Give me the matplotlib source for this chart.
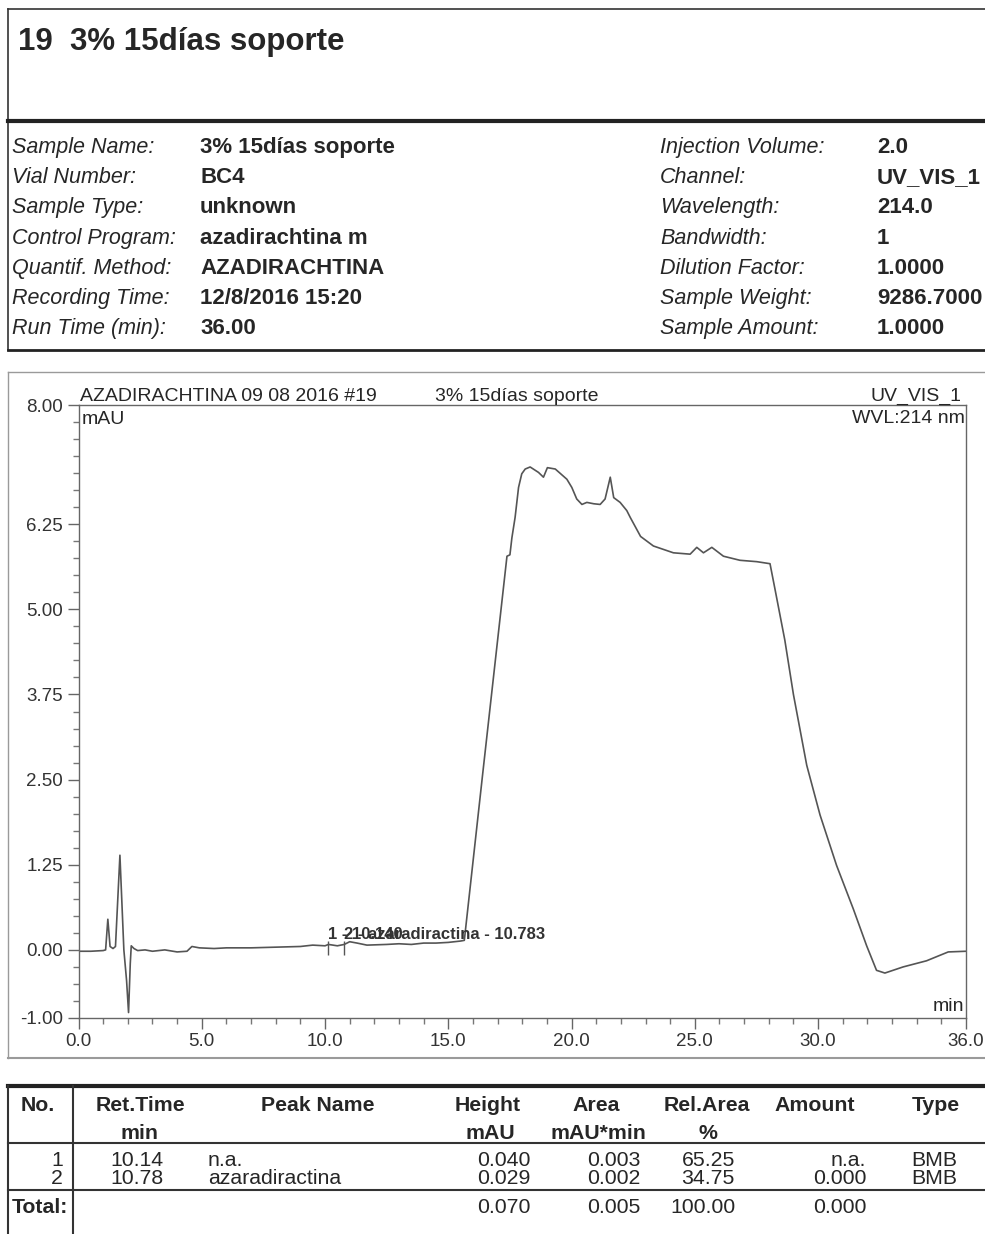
import matplotlib
matplotlib.use("Agg")
import matplotlib.pyplot as plt
from matplotlib.lines import Line2D
from matplotlib.ticker import MultipleLocator, FixedLocator

plt.rcParams['font.family'] = ['Liberation Sans', 'DejaVu Sans']

# ---------------- datos ----------------
titulo = "19  3% 15días soporte"

info_izq = ["Sample Name:", "Vial Number:", "Sample Type:", "Control Program:",
            "Quantif. Method:", "Recording Time:", "Run Time (min):"]
valores_izq = ["3% 15días soporte", "BC4", "unknown", "azadirachtina m",
               "AZADIRACHTINA", "12/8/2016 15:20", "36.00"]
info_der = ["Injection Volume:", "Channel:", "Wavelength:", "Bandwidth:",
            "Dilution Factor:", "Sample Weight:", "Sample Amount:"]
valores_der = ["2.0", "UV_VIS_1", "214.0", "1", "1.0000", "9286.7000", "1.0000"]

# cromatograma (min, mAU)
tiempo = [0.0, 0.5, 1.0, 1.1, 1.19, 1.28, 1.4, 1.5, 1.68, 1.84, 1.95, 2.03, 2.1,
          2.14, 2.25, 2.4, 2.7, 3.0, 3.5, 4.0, 4.4, 4.6, 4.9, 5.5, 6.0, 7.0, 8.0,
          9.0, 9.5, 10.0, 10.14, 10.5, 10.78, 11.0, 11.3, 11.7, 12.5, 13.0, 13.5,
          14.0, 14.5, 15.0, 15.5, 15.65, 16.4, 17.38, 17.5, 17.58, 17.71, 17.85,
          17.98, 18.12, 18.32, 18.66, 18.86, 19.02, 19.34, 19.81, 20.01, 20.21,
          20.42, 20.62, 20.9, 21.16, 21.36, 21.57, 21.71, 21.97, 22.24, 22.38,
          22.8, 23.32, 24.13, 24.81, 25.08, 25.35, 25.69, 26.16, 26.83, 27.51,
          28.05, 28.25, 28.65, 29.0, 29.54, 30.08, 30.75, 31.43, 31.97, 32.37,
          32.71, 33.45, 34.4, 34.94, 35.28, 36.0]
senal = [-0.02, -0.02, -0.01, 0.0, 0.45, 0.05, 0.02, 0.05, 1.39, 0.0, -0.45, -0.92,
         -0.2, 0.06, 0.02, -0.01, 0.0, -0.02, 0.0, -0.03, -0.02, 0.05, 0.03, 0.02,
         0.03, 0.03, 0.04, 0.05, 0.07, 0.06, 0.08, 0.06, 0.08, 0.12, 0.10, 0.07,
         0.08, 0.09, 0.08, 0.10, 0.10, 0.11, 0.13, 0.14, 2.6, 5.78, 5.8, 6.05,
         6.35, 6.79, 6.99, 7.06, 7.09, 7.01, 6.94, 7.08, 7.06, 6.91, 6.79, 6.62,
         6.54, 6.57, 6.55, 6.54, 6.62, 6.94, 6.64, 6.57, 6.45, 6.35, 6.07, 5.93,
         5.83, 5.81, 5.91, 5.83, 5.91, 5.78, 5.72, 5.70, 5.67, 5.30, 4.55, 3.75,
         2.71, 1.98, 1.24, 0.60, 0.06, -0.30, -0.34, -0.25, -0.16, -0.08, -0.03,
         -0.02]

ret_picos = [10.14, 10.78]
base_picos = [0.08, 0.08]
etiquetas_picos = ["1 - 10.140", "2 - azaradiractina - 10.783"]

ticks_y = [-1.00, 0.00, 1.25, 2.50, 3.75, 5.00, 6.25, 8.00]
ticks_x = [0.0, 5.0, 10.0, 15.0, 20.0, 25.0, 30.0, 36.0]

# tabla de picos
num = ["1", "2"]
t_ret = ["10.14", "10.78"]
nombres = ["n.a.", "azaradiractina"]
alturas = ["0.040", "0.029"]
areas = ["0.003", "0.002"]
area_rel = ["65.25", "34.75"]
cantidad = ["n.a.", "0.000"]
tipo = ["BMB", "BMB"]
totales = ["0.070", "0.005", "100.00", "0.000"]

# ---------------- figura ----------------
W, H = 985, 1234
fig = plt.figure(figsize=(W / 100, H / 100), dpi=100)
fig.patch.set_facecolor('white')
TXT = '#262626'


def fx(x):
    return x / W


def fy(y):
    return 1 - y / H


def linea(x0, y0, x1, y1, lw=1.0, c='#333333'):
    fig.add_artist(Line2D([fx(x0), fx(x1)], [fy(y0), fy(y1)], lw=lw, color=c,
                          transform=fig.transFigure))


def texto(x, y, s, **kw):
    kw.setdefault('color', TXT)
    kw.setdefault('va', 'baseline')
    fig.text(fx(x), fy(y), s, **kw)


# cabecera
linea(8, 9, 985, 9, 1.2)
linea(8, 9, 8, 350, 1.2)
linea(8, 121, 985, 121, 3.0, '#222222')
linea(8, 350, 985, 350, 2.0, '#222222')
texto(18, 50, titulo, fontsize=22.5, fontweight='bold')

for i in range(len(info_izq)):
    yb = 153 + i * 30.2
    texto(12, yb, info_izq[i], fontsize=15.5, style='italic')
    texto(200, yb, valores_izq[i], fontsize=16, fontweight='bold')
    texto(660, yb, info_der[i], fontsize=15.5, style='italic')
    texto(877, yb, valores_der[i], fontsize=16, fontweight='bold')

# marco del cromatograma
linea(8, 372, 985, 372, 1.0, '#9a9a9a')
linea(8, 372, 8, 1058, 1.0, '#9a9a9a')
linea(8, 1058, 985, 1058, 1.5, '#9a9a9a')

ax = fig.add_axes([fx(78.5), fy(1018), fx(966) - fx(78.5), fy(405) - fy(1018)])
ax.plot(tiempo, senal, color='#555555', lw=1.2)
ax.set_xlim(0, 36)
ax.set_ylim(-1, 8)
ax.xaxis.set_major_locator(FixedLocator(ticks_x))
ax.xaxis.set_minor_locator(MultipleLocator(1.0))
ax.yaxis.set_major_locator(FixedLocator(ticks_y))
ax.yaxis.set_minor_locator(MultipleLocator(0.25))
ax.set_xticklabels([f"{v:.1f}" for v in ticks_x])
ax.set_yticklabels([f"{v:.2f}" for v in ticks_y])
ax.tick_params(which='major', length=8, width=1, color='#666666',
               labelsize=13.5, labelcolor='#333333', pad=3)
ax.tick_params(which='minor', length=4, width=1, color='#777777')
for s in ax.spines.values():
    s.set_color('#666666')
    s.set_linewidth(1)

# marcas y etiquetas de picos
for t, b, lab in zip(ret_picos, base_picos, etiquetas_picos):
    ax.vlines(t, -0.08, b + 0.05, color='#555555', lw=1)
    ax.text(t, 0.16, lab, fontsize=12, fontweight='bold', color='#333333',
            ha='left', va='baseline')

texto(80, 401, "AZADIRACHTINA 09 08 2016 #19", fontsize=14)
texto(435, 401, "3% 15días soporte", fontsize=14)
texto(962, 401, "UV_VIS_1", fontsize=14, ha='right')
texto(965, 423, "WVL:214 nm", fontsize=14, ha='right')
texto(82, 424, "mAU", fontsize=14)
texto(964, 1011, "min", fontsize=14, ha='right')

# tabla
linea(8, 1086, 985, 1086, 3.0, '#222222')
linea(8, 1086, 8, 1234, 1.5)
linea(73, 1086, 73, 1234, 1.5)
linea(8, 1143, 985, 1143, 1.5)
linea(8, 1190, 985, 1190, 1.5)

FT = 15.3
cab1 = [(38, "No."), (140, "Ret.Time"), (318, "Peak Name"), (488, "Height"),
        (596, "Area"), (707, "Rel.Area"), (815, "Amount"), (936, "Type")]
cab2 = [(140, "min"), (490, "mAU"), (598, "mAU*min"), (708, "%")]
for x, s in cab1:
    texto(x, 1111, s, fontsize=FT, fontweight='bold', ha='center')
for x, s in cab2:
    texto(x, 1139, s, fontsize=FT, fontweight='bold', ha='center')

for i in range(len(num)):
    yb = 1166 + i * 18
    texto(63, yb, num[i], fontsize=FT, ha='right')
    texto(137, yb, t_ret[i], fontsize=FT, ha='center')
    texto(208, yb, nombres[i], fontsize=FT)
    texto(531, yb, alturas[i], fontsize=FT, ha='right')
    texto(640, yb, areas[i], fontsize=FT, ha='right')
    texto(735, yb, area_rel[i], fontsize=FT, ha='right')
    texto(866, yb, cantidad[i], fontsize=FT, ha='right')
    texto(934, yb, tipo[i], fontsize=FT, ha='center')

texto(12, 1213, "Total:", fontsize=FT, fontweight='bold')
for x, s in zip([531, 640, 735, 866], totales):
    texto(x, 1213, s, fontsize=FT, ha='right')

fig.savefig("out.png", dpi=100, facecolor='white')
